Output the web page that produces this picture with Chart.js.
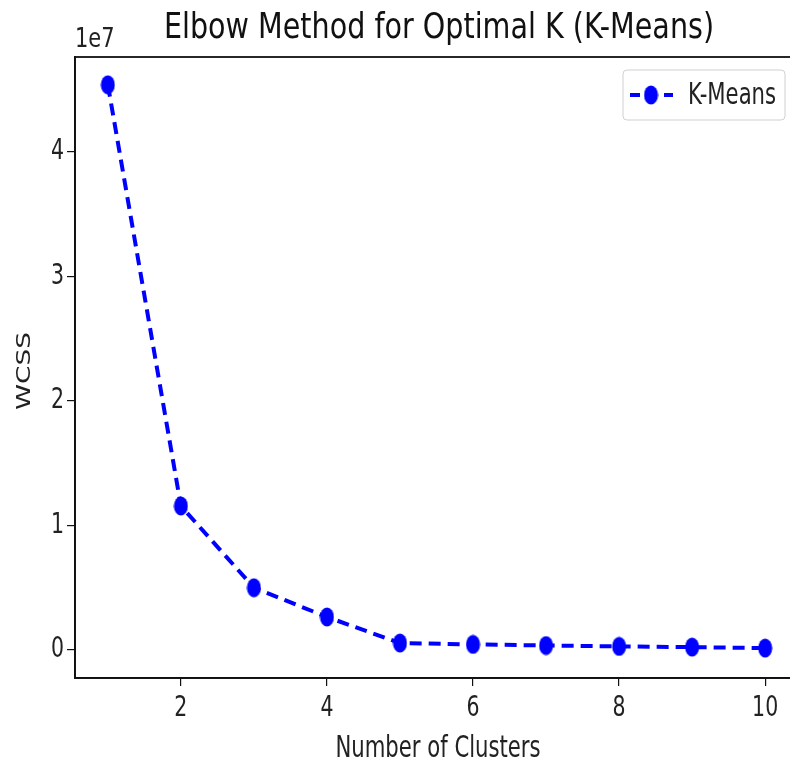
<!DOCTYPE html>
<html>
<head>
<meta charset="utf-8">
<script src="https://cdn.jsdelivr.net/npm/chart.js@4.4.1/dist/chart.umd.min.js"></script>
<style>
  html, body { margin: 0; padding: 0; background: #ffffff; overflow: hidden; }
  #wrap { width: 790px; height: 763px; overflow: hidden; }
</style>
</head>
<body>
<div id="wrap"><canvas id="c" width="812" height="763"></canvas></div>
<script>
// ---- data ----
const clusters = [1, 2, 3, 4, 5, 6, 7, 8, 9, 10];
const wcss = [45400000, 11570000, 5000000, 2650000, 560000, 450000, 360000, 290000, 230000, 150000];
const xTicks = [2, 4, 6, 8, 10];
const yTicks = [0, 10000000, 20000000, 30000000, 40000000];
const yTickLabels = ['0', '1', '2', '3', '4'];
const seriesLabel = 'K-Means';
const titleText = 'Elbow Method for Optimal K (K-Means)';
const xLabel = 'Number of Clusters';
const yLabel = 'WCSS';
const offsetLabel = '1e7';

const FONT = "'DejaVu Sans', sans-serif";
const BLUE = '#0000ff';
const VS = 1.38; // the reference picture is stretched vertically

// elliptical marker (reference markers are taller than wide)
function makeMarker(w, h) {
  const c = document.createElement('canvas');
  c.width = w; c.height = h;
  const g = c.getContext('2d');
  g.fillStyle = BLUE;
  g.beginPath();
  g.ellipse(w / 2, h / 2, w / 2 - 0.5, h / 2 - 0.5, 0, 0, Math.PI * 2);
  g.fill();
  return c;
}
const marker = makeMarker(15, 20);

// text with a different vertical scale (sy) than horizontal
function stretchedText(ctx, text, x, y, size, sx, sy, align, rot) {
  ctx.save();
  ctx.translate(x, y);
  if (rot) ctx.rotate(rot);
  ctx.scale(sx, sy);
  ctx.font = size + "px " + FONT;
  ctx.textAlign = align || 'center';
  ctx.textBaseline = 'middle';
  ctx.fillText(text, 0, 0);
  ctx.restore();
}

const decorPlugin = {
  id: 'decor',
  afterDraw(chart) {
    const ctx = chart.ctx;
    const a = chart.chartArea;
    const xs = chart.scales.x, ys = chart.scales.y;
    ctx.save();
    // frame (all four spines; the right one falls outside the visible crop)
    ctx.strokeStyle = '#111';
    ctx.lineWidth = 1.8;
    ctx.strokeRect(a.left, a.top, a.right - a.left, a.bottom - a.top);

    // tick labels, positioned by the chart's scales
    ctx.fillStyle = '#222';
    xTicks.forEach(v => {
      stretchedText(ctx, String(v), xs.getPixelForValue(v), 709, 20.5, 1, VS, 'center');
    });
    yTicks.forEach((v, i) => {
      stretchedText(ctx, yTickLabels[i], 64, ys.getPixelForValue(v), 20.5, 1, VS, 'right');
    });

    // title
    ctx.fillStyle = '#111';
    stretchedText(ctx, titleText, 439, 29, 28.6, 1, 1.22, 'center');
    // axis titles
    ctx.fillStyle = '#222';
    stretchedText(ctx, xLabel, 438, 749, 21.2, 1, VS, 'center');
    stretchedText(ctx, yLabel, 25, 371, 20, 1.32, 1, 'center', -Math.PI / 2);
    // offset text
    stretchedText(ctx, offsetLabel, 75, 40, 21, 1, 1.3, 'left');

    // legend
    const bx = 623, by = 70, bw = 162, bh = 50, r = 4;
    ctx.beginPath();
    ctx.moveTo(bx + r, by);
    ctx.lineTo(bx + bw - r, by);
    ctx.quadraticCurveTo(bx + bw, by, bx + bw, by + r);
    ctx.lineTo(bx + bw, by + bh - r);
    ctx.quadraticCurveTo(bx + bw, by + bh, bx + bw - r, by + bh);
    ctx.lineTo(bx + r, by + bh);
    ctx.quadraticCurveTo(bx, by + bh, bx, by + bh - r);
    ctx.lineTo(bx, by + r);
    ctx.quadraticCurveTo(bx, by, bx + r, by);
    ctx.closePath();
    ctx.fillStyle = 'rgba(255,255,255,0.85)';
    ctx.fill();
    ctx.strokeStyle = '#d0d0d0';
    ctx.lineWidth = 1;
    ctx.stroke();
    ctx.strokeStyle = BLUE;
    ctx.lineWidth = 4;
    ctx.setLineDash([10, 7]);
    ctx.beginPath();
    ctx.moveTo(630, 95);
    ctx.lineTo(673, 95);
    ctx.stroke();
    ctx.setLineDash([]);
    ctx.drawImage(marker, 651 - 7.5, 95 - 10);
    ctx.fillStyle = '#222';
    stretchedText(ctx, chart.data.datasets[0].label, 688, 96, 21.2, 1, VS, 'left');
    ctx.restore();
  }
};

new Chart(document.getElementById('c'), {
  type: 'line',
  data: {
    datasets: [{
      label: seriesLabel,
      data: clusters.map((k, i) => ({ x: k, y: wcss[i] })),
      borderColor: BLUE,
      backgroundColor: BLUE,
      borderWidth: 4,
      borderDash: [12, 7],
      pointStyle: marker,
      pointRadius: 10,
      pointHoverRadius: 10,
      tension: 0,
      fill: false,
      clip: false
    }]
  },
  options: {
    responsive: false,
    animation: false,
    devicePixelRatio: 1,
    events: [],
    layout: { padding: { top: 57, right: 7, left: 0, bottom: 0 } },
    plugins: {
      legend: { display: false },
      title: { display: false },
      tooltip: { enabled: false }
    },
    scales: {
      x: {
        type: 'linear',
        min: 0.55,
        max: 10.45,
        afterBuildTicks: s => { s.ticks = xTicks.map(v => ({ value: v })); },
        afterFit: s => { s.height = 85; },
        ticks: { display: false },
        grid: { display: true, drawOnChartArea: false, drawTicks: true, tickLength: 8, color: '#111', lineWidth: 1.2 },
        border: { display: true, color: '#111', width: 1.8 },
        title: { display: false }
      },
      y: {
        type: 'linear',
        min: -2250000,
        max: 47630000,
        afterBuildTicks: s => { s.ticks = yTicks.map(v => ({ value: v })); },
        afterFit: s => { s.width = 75; },
        ticks: { display: false },
        grid: { display: true, drawOnChartArea: false, drawTicks: true, tickLength: 8, color: '#111', lineWidth: 1.2 },
        border: { display: true, color: '#111', width: 1.8 },
        title: { display: false }
      }
    }
  },
  plugins: [decorPlugin]
});
</script>
</body>
</html>
